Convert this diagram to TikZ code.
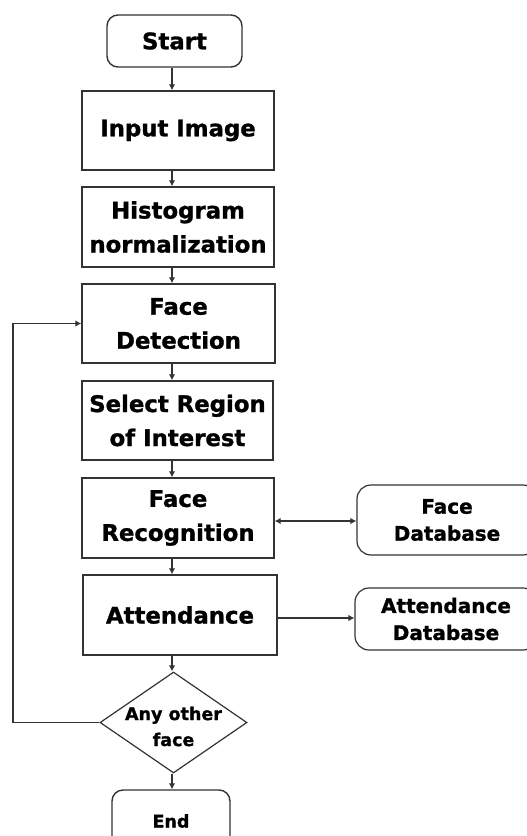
\documentclass[tikz,border=0pt]{standalone}
\usepackage{fontspec}
\setmainfont{DejaVu Sans}[BoldFeatures={FakeBold=1.2}]
\usetikzlibrary{arrows.meta,shapes.geometric}

\definecolor{edge}{HTML}{333333}

\tikzset{
  box/.style={draw=edge, line width=1.4pt, fill=white, inner sep=0pt,
    align=center, font=\fontsize{22.8}{34}\selectfont\bfseries},
  roundbox/.style={box, rounded corners=11pt},
  dbbox/.style={draw=edge, line width=1.2pt, fill=white, inner sep=0pt,
    rounded corners=14pt, align=center,
    font=\fontsize{20}{27}\selectfont\bfseries},
  decision/.style={draw=edge, line width=1.2pt, fill=white, diamond,
    inner sep=0pt},
  decisiontext/.style={align=center, inner sep=0pt,
    font=\fontsize{17.5}{26}\selectfont\bfseries},
  arr/.style={draw=edge, line width=1.3pt, -{Latex[length=6pt,width=6.5pt]}},
  biarr/.style={draw=edge, line width=1.3pt,
    {Latex[length=6pt,width=6.5pt]}-{Latex[length=6pt,width=6.5pt]}}
}

\begin{document}
\begin{tikzpicture}[x=1pt,y=-1pt]
  \useasboundingbox (0,0) rectangle (527,836);
  \fill[white] (0,0) rectangle (527,836);
  \clip (0,0) rectangle (527,836);

  % main column
  \node[roundbox, minimum width=135pt, minimum height=52pt] (start) at (174.5,41) {Start};
  \node[box, minimum width=192pt, minimum height=79pt] (input) at (178,130.5) {Input Image};
  \node[box, minimum width=192pt, minimum height=80pt] (hist) at (178,227) {Histogram\\normalization};
  \node[box, minimum width=193pt, minimum height=79pt] (detect) at (178.5,323.5) {Face\\Detection};
  \node[box, minimum width=191pt, minimum height=79pt] (roi) at (177.5,420.5) {Select Region\\of Interest};
  \node[box, minimum width=192pt, minimum height=80pt] (recog) at (178,518) {Face\\Recognition};
  \node[box, minimum width=194pt, minimum height=80pt] (attend) at (180,615) {Attendance};
  \node[decision, minimum width=147pt, minimum height=101pt,
        label={[decisiontext, yshift=-4pt]center:Any other\\face}] (other) at (173.5,722.5) {};
  \node[roundbox, minimum width=118pt, minimum height=62pt,
        font=\fontsize{17.5}{26}\selectfont\bfseries] (finish) at (171,821) {End};

  % stores on the right
  \node[dbbox, minimum width=180pt, minimum height=70pt] (facedb) at (447,520) {Face\\Database};
  \node[dbbox, minimum width=182pt, minimum height=62pt] (attdb) at (446,619) {Attendance\\Database};

  % vertical flow axis and loop-back column
  \coordinate (axis) at (172,0);
  \coordinate (loopx) at (13,0);

  \draw[arr] (start.south -| axis) -- (input.north -| axis);
  \draw[arr] (input.south -| axis) -- (hist.north -| axis);
  \draw[arr] (hist.south -| axis) -- (detect.north -| axis);
  \draw[arr] (detect.south -| axis) -- (roi.north -| axis);
  \draw[arr] (roi.south -| axis) -- (recog.north -| axis);
  \draw[arr] (recog.south -| axis) -- (attend.north -| axis);
  \draw[arr] (attend.south -| axis) -- (other.north -| axis);
  \draw[arr] (other.south -| axis) -- (finish.north -| axis);

  % side links
  \draw[biarr] (recog.east |- 0,521) -- (facedb.west |- 0,521);
  \draw[arr] (attend.east |- 0,618) -- (attdb.west |- 0,618);

  % loop back for the next face
  \draw[arr] (other.west) -- (other.west -| loopx) -- (detect.west -| loopx) -- (detect.west);
\end{tikzpicture}
\end{document}
